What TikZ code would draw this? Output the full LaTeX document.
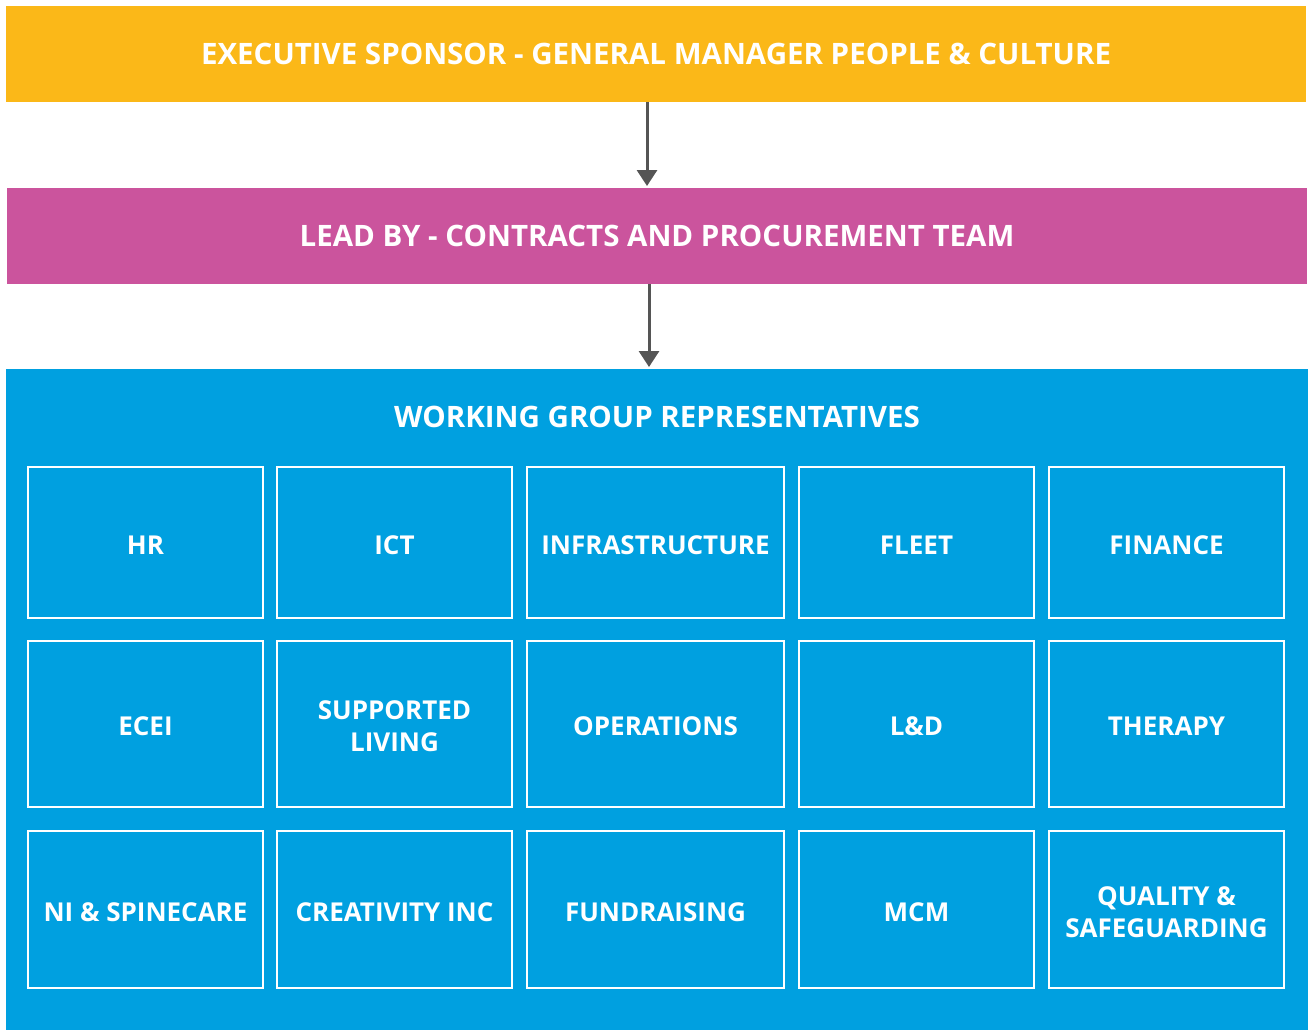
\documentclass[tikz,border=0pt]{standalone}
\usepackage{fontspec}
\setmainfont{Open Sans}[UprightFont=* Bold, BoldFont=* Bold]
\usetikzlibrary{arrows.meta}
\definecolor{cyellow}{HTML}{FBB818}
\definecolor{cpurple}{HTML}{CB549D}
\definecolor{cblue}{HTML}{00A0E0}
\definecolor{carrow}{HTML}{555555}
\tikzset{
  x=1pt, y=-1pt,
  band/.style={inner sep=0pt, text=white, font=\fontsize{29.5}{34}\selectfont},
  cell/.style={draw=white, line width=2.5pt},
  celltext/.style={text=white, align=center, font=\fontsize{26}{32}\selectfont},
  conn/.style={draw=carrow, line width=3pt, -{Triangle[length=16pt,width=20pt]}},
}
\newcommand{\cellbox}[5]{%
  \path[cell] (#1,#2) rectangle (#3,#4);
  \node[celltext] (#5) at ({(#1+#3)/2},{(#2+#4)/2+2.5})}
\begin{document}
\begin{tikzpicture}
\useasboundingbox (0,0) rectangle (1308,1030);
\fill[white] (0,0) rectangle (1308,1030);
\fill[cyellow] (6,6) rectangle (1306,102);
\fill[cpurple] (7,188) rectangle (1307,284);
\fill[cblue] (6,369) rectangle (1308,1030);
\node[band] (exec) at (656,54) {EXECUTIVE SPONSOR - GENERAL MANAGER PEOPLE \& CULTURE};
\node[band] (lead) at (657,236) {LEAD BY - CONTRACTS AND PROCUREMENT TEAM};
\node[band] (wg) at (657,417) {WORKING GROUP REPRESENTATIVES};
\coordinate (a1s) at (647,102);
\coordinate (a1e) at (647,186);
\coordinate (a2s) at (649,284);
\coordinate (a2e) at (649,367);
\draw[conn] (a1s) -- (a1e);
\draw[conn] (a2s) -- (a2e);
% row 1
\cellbox{28}{467}{263}{618}{hr} {HR};
\cellbox{277}{467}{512}{618}{ict} {ICT};
\cellbox{527}{467}{784}{618}{infra} {INFRASTRUCTURE};
\cellbox{799}{467}{1034}{618}{fleet} {FLEET};
\cellbox{1049}{467}{1284}{618}{fin} {FINANCE};
% row 2
\cellbox{28}{641}{263}{807}{ecei} {ECEI};
\cellbox{277}{641}{512}{807}{sl} {SUPPORTED\\LIVING};
\cellbox{527}{641}{784}{807}{ops} {OPERATIONS};
\cellbox{799}{641}{1034}{807}{ld} {L\&D};
\cellbox{1049}{641}{1284}{807}{ther} {THERAPY};
% row 3
\cellbox{28}{831}{263}{988}{ni} {NI \& SPINECARE};
\cellbox{277}{831}{512}{988}{ci} {CREATIVITY INC};
\cellbox{527}{831}{784}{988}{fund} {FUNDRAISING};
\cellbox{799}{831}{1034}{988}{mcm} {MCM};
\cellbox{1049}{831}{1284}{988}{qs} {QUALITY \&\\SAFEGUARDING};
\end{tikzpicture}
\end{document}
